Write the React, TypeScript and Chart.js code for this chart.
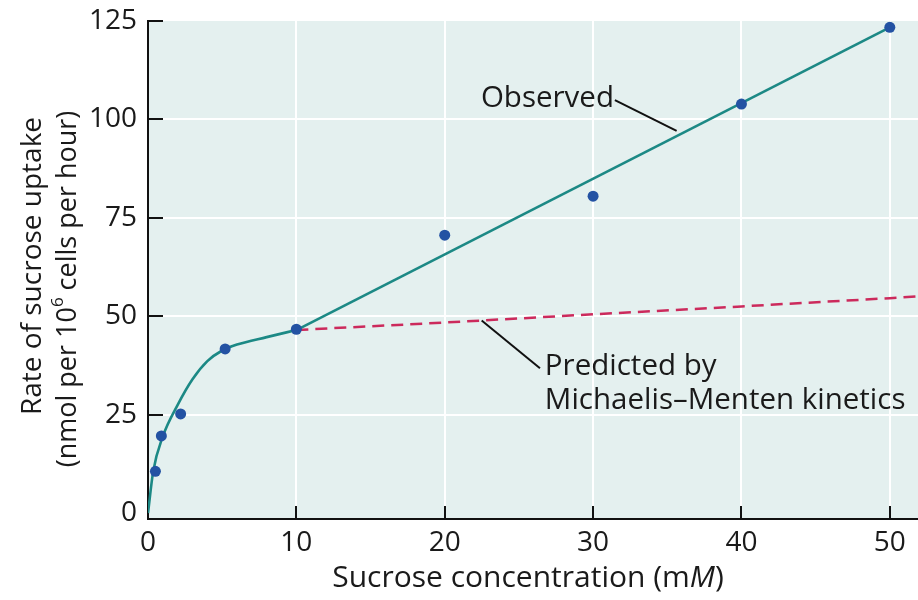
import React, { useEffect, useRef } from 'react';
import { Chart, registerables } from 'chart.js';

Chart.register(...registerables);

// ---- Data ----
const pointX = [0.5, 0.9, 2.2, 5.2, 10, 20, 30, 40, 50];
const pointY = [10.6, 19.6, 25.2, 41.7, 46.7, 70.6, 80.5, 103.9, 123.4];

const curveX = [0, 0.35, 1, 2, 3, 4, 5, 6, 8, 10];
const curveY = [0, 10.6, 19.5, 27.5, 34.0, 38.6, 41.3, 42.8, 44.7, 46.5];

const lineX = [10, 50];
const lineY = [46.5, 123.4];

const predictedX = [10, 20, 30, 40, 50, 52];
const predictedY = [46.5, 48.4, 50.5, 52.5, 54.6, 55.1];

const xTicks = [0, 10, 20, 30, 40, 50];
const yTicks = [0, 25, 50, 75, 100, 125];

const xTitleParts = ['Sucrose concentration (m', 'M', ')'];
const yTitleLine1 = 'Rate of sucrose uptake';
const yTitleLine2Parts = ['(nmol per 10', '6', ' cells per hour)'];

const annotationTexts = ['Observed', 'Predicted by', 'Michaelis\u2013Menten kinetics'];
const annotationX = [22.44, 26.75, 26.75];
const annotationY = [105.4, 37.1, 28.5];
const leaderFromX = [31.47, 22.49];
const leaderFromY = [104.9, 48.9];
const leaderToX = [35.63, 26.42];
const leaderToY = [97.1, 36.8];

// ---- Styles ----
const FONT = '"Open Sans", "Noto Sans", sans-serif';
const TEXT = '#1a1a1a';
const PLOT_BG = '#e4f0ef';
const TEAL = '#1c8985';
const BLUE = '#2352a3';
const CRIMSON = '#cc2a5c';

export default function App() {
  const ref = useRef<HTMLCanvasElement>(null);

  useEffect(() => {
    document.body.style.margin = '0';
    const canvas = ref.current;
    if (!canvas) return;

    const bgPlugin = {
      id: 'plotBg',
      beforeDraw(chart: any) {
        const { ctx, chartArea: a } = chart;
        ctx.save();
        ctx.fillStyle = PLOT_BG;
        ctx.fillRect(a.left, a.top, a.right - a.left, a.bottom - a.top);
        ctx.restore();
      },
    };

    const ticksPlugin = {
      id: 'inwardTicks',
      beforeDatasetsDraw(chart: any) {
        const { ctx, chartArea: a, scales } = chart;
        ctx.save();
        ctx.strokeStyle = '#111';
        ctx.lineWidth = 2;
        ctx.beginPath();
        yTicks.filter((v) => v > 0).forEach((v) => {
          const y = Math.round(scales.y.getPixelForValue(v));
          ctx.moveTo(a.left, y);
          ctx.lineTo(a.left + 15, y);
        });
        xTicks.filter((v) => v > 0).forEach((v) => {
          const x = Math.round(scales.x.getPixelForValue(v));
          ctx.moveTo(x, a.bottom);
          ctx.lineTo(x, a.bottom - 13);
        });
        ctx.stroke();
        ctx.restore();
      },
    };

    const annoPlugin = {
      id: 'annotations',
      afterDraw(chart: any) {
        const { ctx, scales } = chart;
        const sx = scales.x;
        const sy = scales.y;
        ctx.save();
        // leader lines
        ctx.strokeStyle = '#111';
        ctx.lineWidth = 2;
        for (let i = 0; i < leaderFromX.length; i++) {
          ctx.beginPath();
          ctx.moveTo(sx.getPixelForValue(leaderFromX[i]), sy.getPixelForValue(leaderFromY[i]));
          ctx.lineTo(sx.getPixelForValue(leaderToX[i]), sy.getPixelForValue(leaderToY[i]));
          ctx.stroke();
        }
        // annotation texts
        ctx.fillStyle = TEXT;
        ctx.font = `29.5px ${FONT}`;
        ctx.textAlign = 'left';
        ctx.textBaseline = 'middle';
        annotationTexts.forEach((t, i) => {
          ctx.fillText(t, sx.getPixelForValue(annotationX[i]), sy.getPixelForValue(annotationY[i]));
        });

        // x-axis title with italic M
        const xFontN = `30px ${FONT}`;
        const xFontI = `italic 30px ${FONT}`;
        const fonts = [xFontN, xFontI, xFontN];
        const widths = xTitleParts.map((p, i) => {
          ctx.font = fonts[i];
          return ctx.measureText(p).width;
        });
        const total = widths.reduce((s, w) => s + w, 0);
        let x = 528 - total / 2;
        xTitleParts.forEach((p, i) => {
          ctx.font = fonts[i];
          ctx.fillText(p, x, 578);
          x += widths[i];
        });

        // y-axis title (rotated)
        ctx.save();
        ctx.translate(33, 266);
        ctx.rotate(-Math.PI / 2);
        ctx.font = `28px ${FONT}`;
        ctx.textAlign = 'center';
        ctx.fillText(yTitleLine1, 0, 0);
        ctx.restore();

        ctx.save();
        ctx.translate(68, 289);
        ctx.rotate(-Math.PI / 2);
        const f2 = [`27px ${FONT}`, `17px ${FONT}`, `27px ${FONT}`];
        const w2 = yTitleLine2Parts.map((p, i) => {
          ctx.font = f2[i];
          return ctx.measureText(p).width;
        });
        const t2 = w2.reduce((s, w) => s + w, 0);
        let xx = -t2 / 2;
        ctx.textAlign = 'left';
        yTitleLine2Parts.forEach((p, i) => {
          ctx.font = f2[i];
          ctx.fillText(p, xx, i === 1 ? -10 : 0);
          xx += w2[i];
        });
        ctx.restore();

        ctx.restore();
      },
    };

    const gridColor = (c: any) =>
      c.tick && (c.tick.value === 0 || c.tick.value === 125) ? 'rgba(0,0,0,0)' : '#ffffff';

    const chart = new Chart(canvas, {
      type: 'scatter',
      data: {
        datasets: [
          {
            label: 'Measured',
            data: pointX.map((x, i) => ({ x, y: pointY[i] })),
            backgroundColor: BLUE,
            borderColor: BLUE,
            borderWidth: 0,
            pointRadius: 5.5,
            showLine: false,
          },
          {
            label: 'Observed (curve)',
            data: curveX.map((x, i) => ({ x, y: curveY[i] })),
            borderColor: TEAL,
            borderWidth: 2.6,
            pointRadius: 0,
            showLine: true,
            cubicInterpolationMode: 'monotone',
          },
          {
            label: 'Observed (linear)',
            data: lineX.map((x, i) => ({ x, y: lineY[i] })),
            borderColor: TEAL,
            borderWidth: 2.6,
            pointRadius: 0,
            showLine: true,
            tension: 0,
          },
          {
            label: 'Predicted by Michaelis–Menten kinetics',
            data: predictedX.map((x, i) => ({ x, y: predictedY[i] })),
            borderColor: CRIMSON,
            borderWidth: 2.5,
            borderDash: [12, 7],
            pointRadius: 0,
            showLine: true,
            tension: 0,
          },
        ],
      } as any,
      options: {
        responsive: false,
        animation: false,
        devicePixelRatio: 1,
        layout: { autoPadding: false, padding: { top: 21, left: 0, right: 0, bottom: 0 } },
        plugins: {
          legend: { display: false },
          tooltip: { enabled: false },
          title: { display: false },
        },
        scales: {
          x: {
            type: 'linear',
            min: 0,
            max: 51.9,
            afterBuildTicks: (s: any) => {
              s.ticks = xTicks.map((v) => ({ value: v }));
            },
            afterFit: (s: any) => {
              s.height = 81;
              s.paddingLeft = 0;
              s.paddingRight = 0;
            },
            grid: { color: gridColor, lineWidth: 2, drawTicks: false },
            border: { display: true, color: '#111', width: 2 },
            ticks: {
              padding: 7,
              color: TEXT,
              font: { family: FONT, size: 28 },
              callback: (v: any) => String(v),
            },
          },
          y: {
            type: 'linear',
            min: -1.5,
            max: 125,
            afterBuildTicks: (s: any) => {
              s.ticks = yTicks.map((v) => ({ value: v }));
            },
            afterFit: (s: any) => {
              s.width = 148;
              s.paddingTop = 0;
              s.paddingBottom = 0;
            },
            grid: { color: gridColor, lineWidth: 2, drawTicks: false },
            border: { display: true, color: '#111', width: 2 },
            ticks: {
              padding: 11,
              color: TEXT,
              font: { family: FONT, size: 28 },
              callback: (v: any) => String(v),
            },
          },
        },
      } as any,
      plugins: [bgPlugin, ticksPlugin, annoPlugin],
    });

    return () => chart.destroy();
  }, []);

  return (
    <div style={{ position: 'fixed', left: 0, top: 0, width: 918, height: 600, background: '#fff' }}>
      <canvas ref={ref} width={918} height={600} style={{ display: 'block', width: 918, height: 600 }} />
    </div>
  );
}
